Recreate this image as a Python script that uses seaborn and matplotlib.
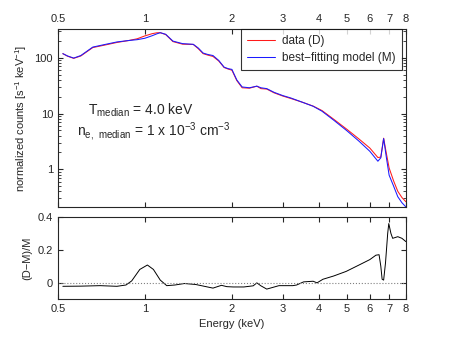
import numpy as np
import pandas as pd
import matplotlib
matplotlib.use("Agg")
import matplotlib.pyplot as plt
import seaborn as sns

# -----------------------------
# Data
# -----------------------------
energy = [0.52, 0.54, 0.567, 0.60, 0.66, 0.72, 0.80, 0.88, 0.94, 1.00, 1.06, 1.10,
          1.13, 1.18, 1.25, 1.35, 1.47, 1.53, 1.59, 1.65, 1.72, 1.80, 1.88, 1.94,
          2.00, 2.08, 2.17, 2.30, 2.44, 2.52, 2.64, 2.80, 3.00, 3.20, 3.50, 3.82,
          4.10, 4.50, 5.00, 5.50, 6.00, 6.40, 6.55, 6.70, 6.85, 7.00, 7.25, 7.50,
          7.75, 8.00]
model = [119, 108, 99, 110, 156, 172, 193, 205, 212, 225, 250, 270,
         283, 265, 200, 180, 175, 150, 122, 115, 110, 90, 68, 64,
         62, 40, 30, 29, 31, 29, 28, 24, 21, 19, 16, 13.5,
         11, 7.6, 4.9, 3.2, 2.1, 1.39, 1.6, 3.55, 1.6, 0.78, 0.5, 0.32,
         0.25, 0.21]
data = [119, 107, 98, 108, 153, 168, 189, 205, 220, 248, 272, 282,
        283, 262, 196, 176, 174, 146, 119, 112, 106, 88, 67, 63,
        60, 39, 29, 28.5, 31, 28, 27.5, 23.5, 20.6, 18.6, 16, 13.6,
        11.3, 7.9, 5.2, 3.5, 2.4, 1.62, 1.65, 3.6, 1.9, 1.05, 0.62, 0.40,
        0.31, 0.26]

energy_res = [0.52, 0.60, 0.70, 0.80, 0.86, 0.90, 0.96, 1.02, 1.07, 1.13, 1.19, 1.27,
              1.37, 1.50, 1.72, 1.84, 1.92, 2.02, 2.20, 2.37, 2.44, 2.52, 2.64, 2.91,
              3.25, 3.35, 3.54, 3.82, 3.94, 4.13, 4.50, 4.97, 5.55, 6.00, 6.30, 6.46,
              6.55, 6.62, 6.70, 6.80, 6.92, 6.98, 7.10, 7.20, 7.50, 7.75, 8.00]
resid = [-0.023, -0.022, -0.019, -0.023, -0.015, 0.01, 0.08, 0.107, 0.08, 0.015, -0.019, -0.015,
         -0.006, -0.012, -0.034, -0.017, -0.025, -0.027, -0.027, -0.02, -0.002, -0.02, -0.04, -0.019,
         -0.019, -0.015, 0.004, 0.008, -0.002, 0.02, 0.04, 0.068, 0.11, 0.14, 0.167, 0.17,
         0.10, 0.02, 0.015, 0.12, 0.30, 0.36, 0.30, 0.27, 0.28, 0.27, 0.25]

xticks = [0.5, 1, 2, 3, 4, 5, 6, 7, 8]
xticklabels = ["0.5", "1", "2", "3", "4", "5", "6", "7", "8"]

# -----------------------------
# Figure
# -----------------------------
sns.set_style("ticks")
plt.rcParams['font.family'] = ['Liberation Sans', 'DejaVu Sans']
plt.rcParams['mathtext.default'] = 'regular'
plt.rcParams['font.size'] = 8

fig = plt.figure(figsize=(4.49, 3.37), dpi=100)
ax1 = fig.add_axes([0.129, 0.386, 0.775, 0.528])
ax2 = fig.add_axes([0.129, 0.113, 0.775, 0.243])

df = pd.DataFrame({'E': energy, 'data': data, 'model': model})
sns.lineplot(x='E', y='data', data=df, ax=ax1, color='#ff1a1a', lw=0.75,
             label='data (D)', sort=False, estimator=None)
sns.lineplot(x='E', y='model', data=df, ax=ax1, color='#1a1aff', lw=0.75,
             label='best\u2212fitting model (M)', sort=False, estimator=None)
ax1.set_xscale('log')
ax1.set_yscale('log')
ax1.set_xlim(0.5, 8)
ax1.set_ylim(0.21, 330)
ax1.set_xticks(xticks)
ax1.set_xticklabels(xticklabels)
ax1.xaxis.set_minor_locator(matplotlib.ticker.NullLocator())
ax1.set_yticks([1, 10, 100])
ax1.set_yticklabels(["1", "10", "100"])
ax1.tick_params(which='both', direction='in', top=True, right=True,
                labeltop=True, labelbottom=False, labelsize=8)
ax1.set_xlabel("")
ax1.set_ylabel("normalized counts [s$^{-1}$ keV$^{-1}$]", fontsize=8)
leg = ax1.legend(loc='upper right', bbox_to_anchor=(0.988, 1.0), fontsize=8.5,
                 frameon=True, fancybox=False, borderaxespad=0, handlelength=2.4,
                 handletextpad=0.6, borderpad=0.5, labelspacing=0.45)
leg.get_frame().set_edgecolor('black')
leg.get_frame().set_linewidth(0.8)
ax1.text(0.087, 0.52, "T$_{median}$ = 4.0 keV", transform=ax1.transAxes, fontsize=10)
ax1.text(0.055, 0.40, "n$_{e,\\ median}$ = 1 x 10$^{-3}$ cm$^{-3}$",
         transform=ax1.transAxes, fontsize=10)

rdf = pd.DataFrame({'E': energy_res, 'r': resid})
sns.lineplot(x='E', y='r', data=rdf, ax=ax2, color='black', lw=0.7,
             sort=False, estimator=None)
ax2.axhline(0, color='gray', lw=0.8, ls=':')
ax2.set_xscale('log')
ax2.set_xlim(0.5, 8)
ax2.set_ylim(-0.1, 0.4)
ax2.set_xticks(xticks)
ax2.set_xticklabels(xticklabels)
ax2.xaxis.set_minor_locator(matplotlib.ticker.NullLocator())
ax2.set_yticks([0, 0.2, 0.4])
ax2.set_yticklabels(["0", "0.2", "0.4"])
ax2.tick_params(which='both', direction='in', top=True, right=True, labelsize=8)
ax2.set_xlabel("Energy (keV)", fontsize=8)
ax2.set_ylabel("(D\u2212M)/M", fontsize=8)

for ax in (ax1, ax2):
    for s in ax.spines.values():
        s.set_linewidth(0.8)
    ax.set_facecolor('white')

fig.savefig("out.png", dpi=100, facecolor='white')
